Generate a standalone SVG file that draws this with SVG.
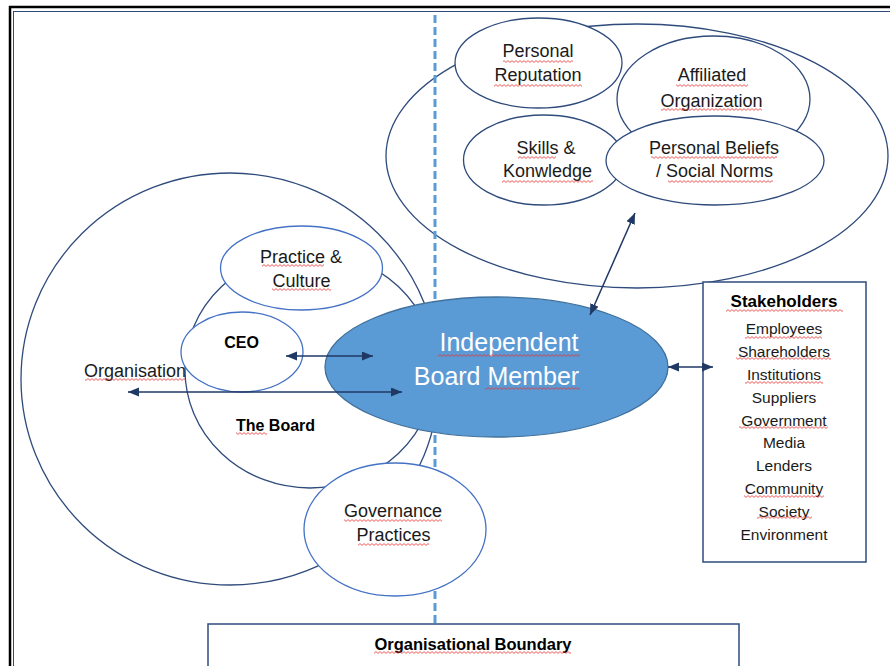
<svg xmlns="http://www.w3.org/2000/svg" width="890" height="666" viewBox="0 0 890 666">
<defs>
<style>
.ol{fill:#fff;stroke:#2F4B7C;stroke-width:1.3}
.lt{fill:#fff;stroke:#4472C4;stroke-width:1.3}
.box{fill:#fff;stroke:#2F4B7C;stroke-width:1.5}
.t{font-family:"Liberation Sans",Arial,sans-serif;font-size:18px;fill:#1a1a1a;text-anchor:middle}
.b{font-weight:bold;font-size:16px;fill:#000}
.s{font-size:15.5px}
.w{fill:#fff;font-size:25px}
.con{stroke:#1F3864;stroke-width:1.5;fill:none;marker-start:url(#ah);marker-end:url(#ah)}
.sq{fill:url(#wavy)}
</style>
<marker id="ah" markerUnits="userSpaceOnUse" markerWidth="12" markerHeight="10" viewBox="0 0 12 10" refX="11" refY="4.5" orient="auto-start-reverse">
<path d="M0,0 L11,4.5 L0,9 z" fill="#1F3864"/>
</marker>
<pattern id="wavy" patternUnits="userSpaceOnUse" width="4" height="3">
<path d="M0,0.6 L2,2.4 L4,0.6" fill="none" stroke="#E8312F" stroke-width="0.8"/>
</pattern>
</defs>
<rect width="890" height="666" fill="#fff"/>
<g id="frame">
<line x1="9" y1="7" x2="890" y2="7" stroke="#000" stroke-width="2.5"/>
<line x1="10" y1="6" x2="10" y2="666" stroke="#000" stroke-width="2.5"/>
<line x1="13" y1="11.5" x2="890" y2="11.5" stroke="#2F4B7C" stroke-width="1"/>
<line x1="13.5" y1="11" x2="13.5" y2="666" stroke="#2F4B7C" stroke-width="1"/>
</g>
<g id="personal-sphere"><ellipse class="ol" cx="637" cy="156" rx="251" ry="132"/></g>
<g id="reputation"><ellipse class="ol" cx="538.5" cy="63" rx="83.5" ry="45"/>
<text class="t" x="538" y="57">Personal</text><text class="t" x="538" y="81">Reputation</text></g>
<g id="affiliated"><ellipse class="ol" cx="713.5" cy="99" rx="96.5" ry="63"/>
<text class="t" x="712" y="81">Affiliated</text><text class="t" x="711.5" y="107">Organization</text></g>
<g id="skills"><ellipse class="ol" cx="543.5" cy="160" rx="80" ry="45"/>
<text class="t" x="546" y="154">Skills &amp;</text><text class="t" x="547.5" y="177">Konwledge</text></g>
<g id="beliefs"><ellipse class="ol" cx="715" cy="160.5" rx="109" ry="44.5"/>
<text class="t" x="714" y="154">Personal Beliefs</text><text class="t" x="714.5" y="177">/ Social Norms</text></g>
<g id="organisation"><ellipse class="ol" cx="230" cy="379" rx="209" ry="206"/>
<text class="t" x="135" y="377">Organisation</text></g>
<g id="board"><ellipse class="ol" cx="310" cy="370" rx="125" ry="118"/>
<text class="t b" x="275.5" y="431">The Board</text></g>
<g id="practice"><ellipse class="lt" cx="301.5" cy="268" rx="81" ry="42"/>
<text class="t" x="301" y="263">Practice &amp;</text><text class="t" x="301.5" y="287">Culture</text></g>
<g id="ceo"><ellipse class="lt" cx="242" cy="352" rx="61" ry="40"/>
<text class="t b" x="241.5" y="348">CEO</text></g>
<g id="boundary-line"><line x1="435" y1="15" x2="435" y2="624" stroke="#5B9BD5" stroke-width="3" stroke-dasharray="8 4"/></g>
<g id="ibm"><ellipse cx="496.5" cy="367" rx="171.5" ry="70" fill="#5B9BD5" stroke="#41719C" stroke-width="1.3"/>
<text class="t w" x="509" y="351">Independent</text><text class="t w" x="496.5" y="385">Board Member</text></g>
<g id="governance"><ellipse class="lt" cx="395" cy="529.5" rx="91" ry="66.5"/>
<text class="t" x="393" y="517">Governance</text><text class="t" x="393.5" y="541">Practices</text></g>
<g id="stakeholders"><rect class="box" x="703" y="282" width="163" height="280"/>
<text class="t b" style="font-size:17px" x="784" y="307">Stakeholders</text>
<text class="t s" x="784" y="334">Employees</text>
<text class="t s" x="784" y="357">Shareholders</text>
<text class="t s" x="784" y="380">Institutions</text>
<text class="t s" x="784" y="402.5">Suppliers</text>
<text class="t s" x="784" y="425.5">Government</text>
<text class="t s" x="784" y="448">Media</text>
<text class="t s" x="784" y="471">Lenders</text>
<text class="t s" x="784" y="494">Community</text>
<text class="t s" x="784" y="517">Society</text>
<text class="t s" x="784" y="540">Environment</text></g>
<g id="org-boundary"><rect class="box" x="208" y="624" width="531" height="60"/>
<text class="t b" style="font-size:16.5px" x="473" y="650">Organisational Boundary</text></g>
<g id="connectors">
<line class="con" x1="286" y1="356" x2="373" y2="356"/>
<line class="con" x1="128" y1="392" x2="402" y2="392"/>
<line class="con" x1="590" y1="315" x2="635" y2="213"/>
<line class="con" x1="668" y1="367" x2="713" y2="367"/>
</g>
<g id="spellcheck">
<rect class="sq" x="503" y="60" width="70" height="3"/>
<rect class="sq" x="494" y="84" width="88" height="3"/>
<rect class="sq" x="676" y="84" width="72" height="3"/>
<rect class="sq" x="661" y="108" width="101" height="3"/>
<rect class="sq" x="518" y="156" width="38" height="3"/>
<rect class="sq" x="502" y="180" width="91" height="3"/>
<rect class="sq" x="651" y="156" width="126" height="3"/>
<rect class="sq" x="668" y="180" width="105" height="3"/>
<rect class="sq" x="262" y="264" width="62" height="3"/>
<rect class="sq" x="272" y="288" width="59" height="3"/>
<rect class="sq" x="85" y="378" width="100" height="3"/>
<rect class="sq" x="236" y="432" width="31" height="3"/>
<rect class="sq" x="438" y="354" width="142" height="3"/>
<rect class="sq" x="485" y="387" width="95" height="3"/>
<rect class="sq" x="344" y="519" width="98" height="3"/>
<rect class="sq" x="358" y="543" width="71" height="3"/>
<rect class="sq" x="726" y="309" width="117" height="3"/>
<rect class="sq" x="745" y="336" width="77" height="3"/>
<rect class="sq" x="736" y="357" width="95" height="3"/>
<rect class="sq" x="745" y="381" width="78" height="3"/>
<rect class="sq" x="739" y="426" width="89" height="3"/>
<rect class="sq" x="744" y="495" width="80" height="3"/>
<rect class="sq" x="757" y="516" width="55" height="3"/>
<rect class="sq" x="374" y="651" width="197" height="3"/>
</g>
</svg>
